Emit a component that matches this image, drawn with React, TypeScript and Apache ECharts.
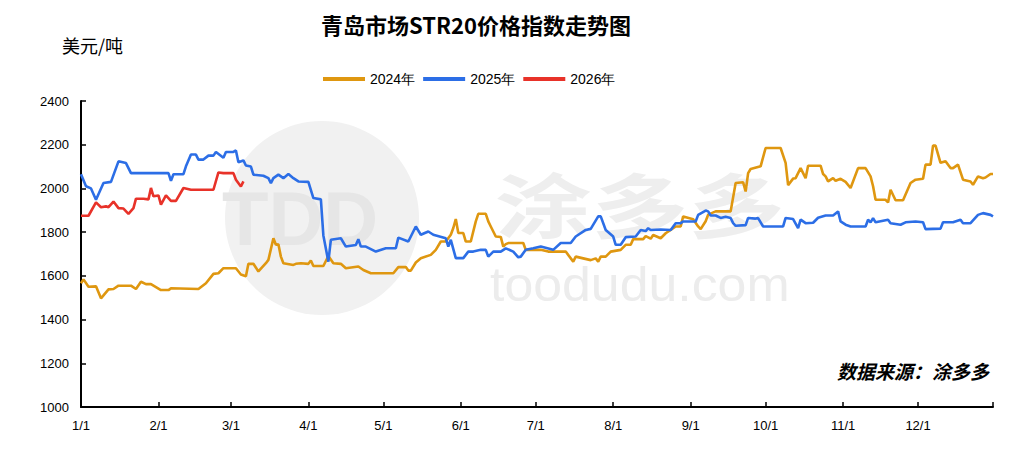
import React, { useEffect, useRef } from "react";
import * as echarts from "echarts";

const monthLengths = [31, 29, 31, 30, 31, 30, 31, 31, 30, 31, 30, 31];
const categories: string[] = [];
const monthStartIdx: number[] = [];
monthLengths.forEach((len, m) => {
  for (let d = 1; d <= len; d++) {
    if (d === 1) monthStartIdx.push(categories.length);
    categories.push(`${m + 1}/${d}`);
  }
});

const yTicks = { min: 1000, max: 2400, interval: 200 };
const seriesNames = ["2024年", "2025年", "2026年"];
const seriesColors = ["#DF9710", "#2C6EE6", "#E83229"];

const data2024: [number, number][] = [
  [0, 1566], [1, 1584], [3, 1550], [6, 1552], [8, 1497], [11, 1538], [13, 1540], [15, 1555], [18, 1555], [20, 1555],
  [22, 1540], [24, 1573], [26, 1562], [28, 1562], [32, 1535], [35, 1535], [36, 1543], [47, 1540], [50, 1566], [53, 1609],
  [55, 1612], [57, 1635], [62, 1635], [64, 1606], [66, 1598], [67, 1655], [69, 1655], [71, 1620], [74, 1658], [75, 1673],
  [77, 1772], [78, 1742], [79, 1745], [80, 1688], [81, 1658], [85, 1650], [86, 1655], [88, 1658], [91, 1655], [92, 1670],
  [93, 1645], [97, 1645], [99, 1691], [101, 1658], [104, 1655], [106, 1635], [111, 1643], [113, 1627], [116, 1612], [125, 1612],
  [127, 1640], [130, 1640], [131, 1624], [132, 1624], [134, 1661], [136, 1681], [140, 1696], [142, 1719], [144, 1757], [146, 1757],
  [148, 1788], [149, 1819], [150, 1860], [151, 1796], [153, 1796], [154, 1757], [156, 1757], [158, 1849], [159, 1884], [162, 1884],
  [163, 1849], [164, 1826], [166, 1780], [168, 1778], [169, 1734], [170, 1745], [171, 1750], [177, 1750], [178, 1719], [184, 1719],
  [187, 1711], [194, 1711], [197, 1665], [198, 1688], [204, 1672], [206, 1680], [207, 1665], [208, 1688], [210, 1688], [212, 1711],
  [216, 1719], [218, 1742], [220, 1742], [221, 1768], [225, 1768], [226, 1782], [228, 1770], [229, 1787], [232, 1772], [234, 1795],
  [236, 1810], [238, 1826], [240, 1826], [241, 1872], [245, 1859], [247, 1826], [248, 1814], [250, 1850], [251, 1880], [254, 1895],
  [260, 1895], [262, 2025], [265, 2028], [266, 1986], [267, 2070], [268, 2089], [272, 2101], [274, 2185], [280, 2185], [282, 2117],
  [283, 2015], [285, 2045], [286, 2047], [288, 2093], [290, 2047], [291, 2104], [296, 2104], [297, 2066], [298, 2055], [299, 2032],
  [301, 2047], [302, 2035], [304, 2044], [306, 2030], [308, 2002], [311, 2093], [314, 2093], [316, 2055], [317, 2010], [318, 1948],
  [322, 1948], [323, 1936], [324, 1994], [326, 1946], [329, 1946], [332, 2025], [334, 2040], [337, 2044], [338, 2109], [340, 2109],
  [341, 2196], [342, 2196], [344, 2117], [346, 2124], [348, 2093], [349, 2093], [351, 2109], [353, 2040], [356, 2032], [357, 2017],
  [359, 2055], [361, 2047], [362, 2050], [364, 2066], [365, 2066],
];

const data2025: [number, number][] = [
  [0, 2065], [2, 2010], [4, 2000], [6, 1948], [9, 2025], [12, 2030], [15, 2124], [18, 2116], [20, 2070], [35, 2070],
  [36, 2035], [37, 2065], [41, 2065], [42, 2101], [44, 2155], [46, 2155], [47, 2132], [49, 2132], [51, 2150], [53, 2150],
  [54, 2167], [57, 2140], [58, 2167], [61, 2167], [62, 2174], [63, 2120], [65, 2128], [66, 2105], [68, 2100], [69, 2063],
  [73, 2058], [75, 2047], [76, 2024], [77, 2047], [79, 2063], [81, 2047], [83, 2066], [85, 2047], [87, 2032], [91, 2030],
  [93, 1956], [96, 1950], [97, 1785], [99, 1665], [100, 1765], [104, 1772], [106, 1734], [110, 1741], [111, 1768], [112, 1734],
  [114, 1734], [118, 1711], [122, 1726], [126, 1726], [127, 1775], [131, 1757], [134, 1826], [136, 1788], [139, 1803], [141, 1788],
  [146, 1772], [147, 1734], [148, 1765], [150, 1681], [153, 1681], [155, 1711], [157, 1711], [160, 1719], [162, 1719], [163, 1688],
  [165, 1711], [168, 1711], [170, 1726], [173, 1711], [175, 1685], [176, 1688], [178, 1719], [181, 1726], [184, 1734], [189, 1719],
  [192, 1750], [196, 1750], [198, 1780], [202, 1810], [204, 1815], [207, 1872], [208, 1872], [210, 1810], [213, 1780], [214, 1742],
  [216, 1742], [218, 1777], [222, 1780], [224, 1810], [226, 1805], [227, 1818], [228, 1810], [232, 1812], [236, 1810], [238, 1841],
  [240, 1841], [241, 1849], [246, 1849], [247, 1879], [250, 1899], [251, 1895], [252, 1876], [254, 1876], [256, 1865], [258, 1870],
  [260, 1865], [261, 1841], [262, 1829], [266, 1832], [267, 1865], [270, 1862], [271, 1864], [273, 1826], [281, 1826], [282, 1865],
  [285, 1860], [287, 1818], [288, 1857], [290, 1841], [293, 1843], [295, 1866], [298, 1876], [301, 1876], [303, 1895], [304, 1849],
  [306, 1834], [308, 1826], [314, 1826], [315, 1857], [316, 1845], [317, 1864], [318, 1845], [323, 1857], [324, 1841], [328, 1834],
  [330, 1845], [334, 1849], [337, 1845], [338, 1814], [344, 1816], [345, 1845], [349, 1845], [352, 1857], [353, 1841], [356, 1841],
  [359, 1879], [361, 1887], [364, 1879], [365, 1872],
];

const data2026: [number, number][] = [
  [0, 1875], [3, 1875], [6, 1936], [8, 1914], [10, 1918], [11, 1914], [13, 1940], [15, 1910], [17, 1908], [19, 1884],
  [21, 1910], [22, 1953], [25, 1953], [27, 1950], [28, 2002], [29, 1964], [31, 1968], [32, 1926], [34, 1968], [36, 1943],
  [38, 1943], [41, 2002], [44, 1994], [53, 1994], [55, 2073], [57, 2070], [61, 2070], [62, 2040], [64, 2009], [65, 2032],
];

const allData = [data2024, data2025, data2026];
const latin = "'Liberation Sans', Arial, sans-serif";
const cjk = "'Noto Sans CJK SC', sans-serif";

export default function App() {
  const ref = useRef<HTMLDivElement>(null);
  useEffect(() => {
    if (!ref.current) return;
    const chart = echarts.init(ref.current, null, { renderer: "svg" });
    const tickSet = new Set([...monthStartIdx, categories.length - 1]);
    const labelSet = new Set(monthStartIdx);
    chart.setOption({
      animation: false,
      backgroundColor: "#ffffff",
      title: {
        text: "青岛市场STR20价格指数走势图",
        left: 316,
        top: 8,
        textStyle: { fontFamily: cjk, fontSize: 22, fontWeight: "bold", color: "#000" },
      },
      legend: {
        left: 318,
        top: 67,
        icon: "rect",
        itemWidth: 42,
        itemHeight: 4,
        itemGap: 8,
        data: seriesNames,
        textStyle: { fontFamily: latin, fontSize: 14, color: "#000" },
      },
      grid: { left: 81, right: 28, top: 101, bottom: 47, containLabel: false },
      graphic: [
        { type: "circle", z: -10, shape: { cx: 322, cy: 218, r: 97 }, style: { fill: "#f1f1f1" } },
        {
          type: "text", z: -9, x: 222, y: 218,
          style: { text: "TDD", font: "bold 76px 'Liberation Sans', sans-serif", fill: "#e6e6e6", verticalAlign: "middle" },
        },
        {
          type: "text", z: -9, x: 495, y: 202, scaleX: 1.38,
          style: { text: "涂多多", font: "bold 70px 'Noto Sans CJK SC', sans-serif", fill: "#eeeeee", verticalAlign: "middle" },
        },
        {
          type: "text", z: -9, x: 490, y: 285, scaleX: 1.08,
          style: { text: "toodudu.com", font: "48px 'Liberation Sans', sans-serif", fill: "#ececec", verticalAlign: "middle" },
        },
        { type: "text", x: 62, y: 36, style: { text: "美元/吨", font: "18px 'Noto Sans CJK SC', sans-serif", fill: "#000" } },
        {
          type: "text",
          x: 989,
          y: 361,
          style: {
            text: "数据来源：涂多多",
            font: "italic bold 19px 'Noto Sans CJK SC', sans-serif",
            fill: "#000",
            align: "right",
          },
        },
      ],
      xAxis: {
        type: "category",
        data: categories,
        boundaryGap: false,
        axisLine: { lineStyle: { color: "#000", width: 2 } },
        axisTick: {
          inside: true,
          length: 5,
          interval: (i: number) => tickSet.has(i),
          lineStyle: { color: "#000", width: 1.5 },
        },
        axisLabel: {
          interval: (i: number) => labelSet.has(i),
          fontFamily: latin,
          fontSize: 13,
          color: "#000",
          margin: 12,
        },
        splitLine: { show: false },
      },
      yAxis: {
        type: "value",
        min: yTicks.min,
        max: yTicks.max,
        interval: yTicks.interval,
        axisLine: { show: true, lineStyle: { color: "#000", width: 2 } },
        axisTick: { show: true, inside: true, length: 5, lineStyle: { color: "#000", width: 1.5 } },
        axisLabel: { fontFamily: latin, fontSize: 13, color: "#000", margin: 12, formatter: (v: number) => String(v) },
        splitLine: { show: false },
      },
      series: seriesNames.map((name, k) => ({
        name,
        type: "line",
        data: allData[k],
        showSymbol: false,
        symbol: "none",
        color: seriesColors[k],
        lineStyle: { width: 2.6, color: seriesColors[k] },
        z: 3 + k,
      })),
    });
    return () => chart.dispose();
  }, []);
  return <div ref={ref} style={{ position: "absolute", left: 0, top: 0, width: 1021, height: 454 }} />;
}
